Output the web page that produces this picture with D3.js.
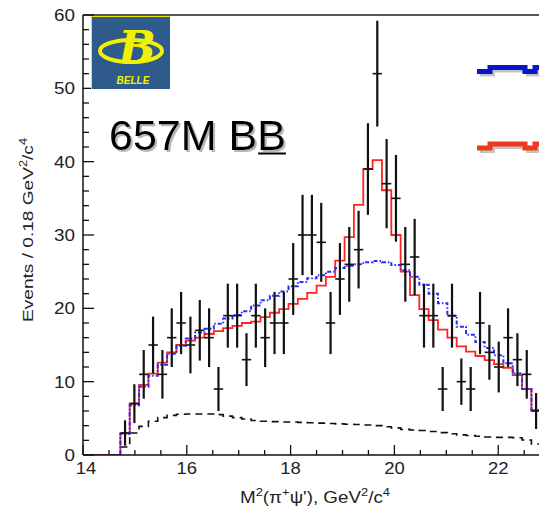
<!DOCTYPE html>
<html>
<head>
<meta charset="utf-8">
<script src="https://cdn.jsdelivr.net/npm/d3@7"></script>
<style>
  html, body { margin: 0; padding: 0; background: #fff; overflow: hidden; }
  svg { display: block; font-family: "Liberation Sans", Arial, sans-serif; }
</style>
</head>
<body>
<svg id="chart" width="539" height="511"></svg>
<script>
// M^2(pi+ psi') distribution, 0.18 GeV^2 bins starting at 14.72
const binStart = 14.72;
const binWidth = 0.18;

// data counts per bin
const dataCounts = [3, 7, 11, 15, 11, 16, 18, 15, 17, 16, 9, 19, 19, 13, 19, 16, 18, 18, 24, 30,
    30, 29, 18, 24, 26, 28, 39, 52, 37, 35, 26, 27, 19, 19, 9, 19, 10, 9, 18, 14, 12, 16, 13, 11, 6];

// fit with resonance (red solid)
const fitSignal = [2.95, 7.05, 9.55, 11.1, 12.6, 14.0, 15.0, 15.6, 16.0, 16.5, 16.9, 17.3, 17.6, 18.0, 18.2,
    18.8, 19.4, 19.9, 20.6, 21.3, 22.1, 23.1, 24.3, 26.5, 29.7, 34.1, 39.0, 40.2, 36.1, 30.0,
    25.0, 21.8, 19.9, 18.4, 17.1, 16.0, 14.8, 14.1, 13.5, 12.95, 12.4, 11.9, 10.9, 9.0, 6.1];

// fit without resonance (blue dotted)
const fitNoSignal = [2.9, 6.8, 9.3, 10.8, 12.3, 13.8, 14.9, 15.9, 16.7, 17.2, 17.9, 18.6, 19.1, 19.6, 20.4,
    21.1, 21.7, 22.3, 23.0, 23.6, 24.1, 24.5, 25.0, 25.5, 25.8, 26.0, 26.3, 26.45, 26.3, 25.9,
    25.2, 24.3, 23.2, 22.0, 20.7, 19.0, 17.5, 16.4, 15.4, 14.6, 13.6, 12.5, 11.1, 9.0, 6.1];

// combinatorial background (black dashed)
const background = [1.1, 3.0, 3.9, 4.6, 5.1, 5.4, 5.55, 5.6, 5.6, 5.6, 5.5, 5.3, 5.1, 4.9, 4.7,
    4.6, 4.55, 4.5, 4.5, 4.45, 4.4, 4.35, 4.3, 4.25, 4.2, 4.15, 4.1, 4.0, 3.85, 3.7,
    3.5, 3.4, 3.35, 3.2, 3.05, 2.9, 2.75, 2.65, 2.55, 2.45, 2.4, 2.4, 2.35, 2.05, 1.5];

const yTicks = [0, 10, 20, 30, 40, 50, 60];
const xTicks = [14, 16, 18, 20, 22];

const svg = d3.select("#chart");
const plotLeft = 83, plotRight = 539, plotTop = 15, plotBottom = 455;

const x = d3.scaleLinear().domain([14, 22.786]).range([plotLeft, plotRight]);
const y = d3.scaleLinear().domain([0, 60]).range([plotBottom, plotTop]);

const lo = i => binStart + i * binWidth;

const defs = svg.append("defs");
defs.append("clipPath").attr("id", "plotClip")
    .append("rect").attr("x", plotLeft).attr("y", plotTop)
    .attr("width", plotRight - plotLeft).attr("height", plotBottom - plotTop);
defs.append("filter").attr("id", "shadow")
    .append("feDropShadow").attr("dx", 2).attr("dy", 2).attr("stdDeviation", 0.6)
    .attr("flood-color", "#999").attr("flood-opacity", 0.7);

const plot = svg.append("g").attr("clip-path", "url(#plotClip)");

// step histogram from values
function stepPoints(vals, fromZero) {
    const pts = fromZero ? [[14, 0]] : [];
    vals.forEach((v, i) => pts.push([lo(i), v]));
    pts.push([lo(vals.length), vals[vals.length - 1]]);
    return pts;
}
const stepLine = d3.line().x(d => x(d[0])).y(d => y(d[1])).curve(d3.curveStepAfter);

plot.append("path")
    .attr("d", stepLine(stepPoints(background, false)))
    .attr("fill", "none").attr("stroke", "#111").attr("stroke-width", 1.6)
    .attr("stroke-dasharray", "7,5");

plot.append("path")
    .attr("d", stepLine(stepPoints(fitSignal, true)))
    .attr("fill", "none").attr("stroke", "#ff2424").attr("stroke-width", 1.8);

plot.append("path")
    .attr("d", stepLine(stepPoints(fitNoSignal, true)))
    .attr("fill", "none").attr("stroke", "#2a2aff").attr("stroke-width", 2)
    .attr("stroke-dasharray", "4,2,1.5,2");

// data points with sqrt(N) errors
const pts = plot.append("g").attr("stroke", "#111");
dataCounts.forEach((n, i) => {
    const cx = x(lo(i) + binWidth / 2);
    const err = Math.sqrt(n);
    pts.append("line")
        .attr("x1", cx).attr("x2", cx)
        .attr("y1", y(n - err)).attr("y2", y(n + err))
        .attr("stroke-width", 2.2);
    pts.append("line")
        .attr("x1", x(lo(i))).attr("x2", x(lo(i + 1)))
        .attr("y1", y(n)).attr("y2", y(n))
        .attr("stroke-width", 1.6);
});

// frame
svg.append("line").attr("x1", plotLeft).attr("x2", plotRight).attr("y1", plotTop).attr("y2", plotTop)
    .attr("stroke", "#555").attr("stroke-width", 2);

// axes with inward ticks
const yAxis = svg.append("g");
yAxis.append("line").attr("x1", plotLeft).attr("x2", plotLeft).attr("y1", plotTop).attr("y2", plotBottom)
    .attr("stroke", "#111").attr("stroke-width", 1.5);
d3.range(0, 61, 2).forEach(v => {
    const major = v % 10 === 0;
    yAxis.append("line").attr("x1", plotLeft).attr("x2", plotLeft + (major ? 11 : 6))
        .attr("y1", y(v)).attr("y2", y(v)).attr("stroke", "#111").attr("stroke-width", 1.3);
});
yAxis.selectAll("text.tick").data(yTicks).join("text")
    .attr("class", "tick")
    .attr("x", plotLeft - 8).attr("y", d => y(d) + 6)
    .attr("text-anchor", "end")
    .attr("font-size", 16).attr("fill", "#222")
    .attr("textLength", d => String(d).length * 10.5)
    .attr("lengthAdjust", "spacingAndGlyphs")
    .text(d => d);

const xAxis = svg.append("g");
xAxis.append("line").attr("x1", plotLeft).attr("x2", plotRight).attr("y1", plotBottom).attr("y2", plotBottom)
    .attr("stroke", "#111").attr("stroke-width", 1.5);
d3.range(14, 22.8, 0.5).forEach(v => {
    const major = Math.abs(v % 2) < 1e-9;
    xAxis.append("line").attr("x1", x(v)).attr("x2", x(v))
        .attr("y1", plotBottom).attr("y2", plotBottom - (major ? 10 : 5))
        .attr("stroke", "#111").attr("stroke-width", 1.3);
});
xAxis.selectAll("text.tick").data(xTicks).join("text")
    .attr("class", "tick")
    .attr("x", d => x(d) + (d === 14 ? 3 : 0)).attr("y", plotBottom + 19)
    .attr("text-anchor", "middle")
    .attr("font-size", 16).attr("fill", "#222")
    .attr("textLength", 20.5)
    .attr("lengthAdjust", "spacingAndGlyphs")
    .text(d => d);

// axis titles
const xt = svg.append("text")
    .attr("x", 240).attr("y", 503)
    .attr("font-size", 16).attr("fill", "#222")
    .attr("textLength", 150).attr("lengthAdjust", "spacingAndGlyphs");
xt.append("tspan").text("M");
xt.append("tspan").attr("font-size", 11).attr("dy", -7).text("2");
xt.append("tspan").attr("dy", 7).text("(π");
xt.append("tspan").attr("font-size", 11).attr("dy", -7).text("+");
xt.append("tspan").attr("dy", 7).text("ψ'), GeV");
xt.append("tspan").attr("font-size", 11).attr("dy", -7).text("2");
xt.append("tspan").attr("dy", 7).text("/c");
xt.append("tspan").attr("font-size", 11).attr("dy", -7).text("4");

const yt = svg.append("text")
    .attr("transform", "translate(33,322) rotate(-90)")
    .attr("font-size", 15).attr("fill", "#222")
    .attr("textLength", 184).attr("lengthAdjust", "spacingAndGlyphs");
yt.append("tspan").text("Events / 0.18 GeV");
yt.append("tspan").attr("font-size", 10).attr("dy", -6).text("2");
yt.append("tspan").attr("dy", 6).text("/c");
yt.append("tspan").attr("font-size", 10).attr("dy", -6).text("4");

// Belle logo
const logo = svg.append("g");
logo.append("rect").attr("x", 91).attr("y", 16).attr("width", 79).attr("height", 73)
    .attr("fill", "#2e5a8c");
logo.append("path").attr("d", "M91.5,89 V16.5 H170").attr("fill", "none")
    .attr("stroke", "#e8e800").attr("stroke-width", 1);
logo.append("ellipse").attr("cx", 131).attr("cy", 51).attr("rx", 31).attr("ry", 11)
    .attr("fill", "none").attr("stroke", "#f2f200").attr("stroke-width", 4);
logo.append("text").attr("x", 137).attr("y", 63).attr("text-anchor", "middle")
    .attr("font-family", "DejaVu Serif").attr("font-style", "italic").attr("font-weight", "bold")
    .attr("font-size", 44).attr("fill", "#f2f200").text("B");
logo.append("text").attr("x", 133).attr("y", 84).attr("text-anchor", "middle")
    .attr("font-style", "italic").attr("font-weight", "bold")
    .attr("font-size", 10).attr("fill", "#f2f200").text("BELLE");

// luminosity label
const lumi = "657M BB";
const lt = svg.append("text").attr("x", 109).attr("y", 150).attr("font-size", 43)
    .attr("fill", "#000").attr("filter", "url(#shadow)").text(lumi);
const pre = lt.node().getSubStringLength(0, lumi.length - 1);
const last = lt.node().getSubStringLength(lumi.length - 1, 1);
svg.append("line").attr("x1", 109 + pre + 1).attr("x2", 109 + pre + last)
    .attr("y1", 153.5).attr("y2", 153.5).attr("stroke", "#000").attr("stroke-width", 2);

// legend line samples (cut by right edge)
const legendRows = [{ color: "#0a14c8", y0: 71.5 }, { color: "#ee3a1a", y0: 148 }];
legendRows.forEach(r => {
    const p = `M477,${r.y0} H490 V${r.y0 - 4} H525 V${r.y0} H535 V${r.y0 - 4} H539`;
    svg.append("path").attr("d", p).attr("transform", "translate(3,3)")
        .attr("fill", "none").attr("stroke", "#c4c4c4").attr("stroke-width", 4);
    svg.append("path").attr("d", p)
        .attr("fill", "none").attr("stroke", r.color).attr("stroke-width", 5);
});
</script>
</body>
</html>
